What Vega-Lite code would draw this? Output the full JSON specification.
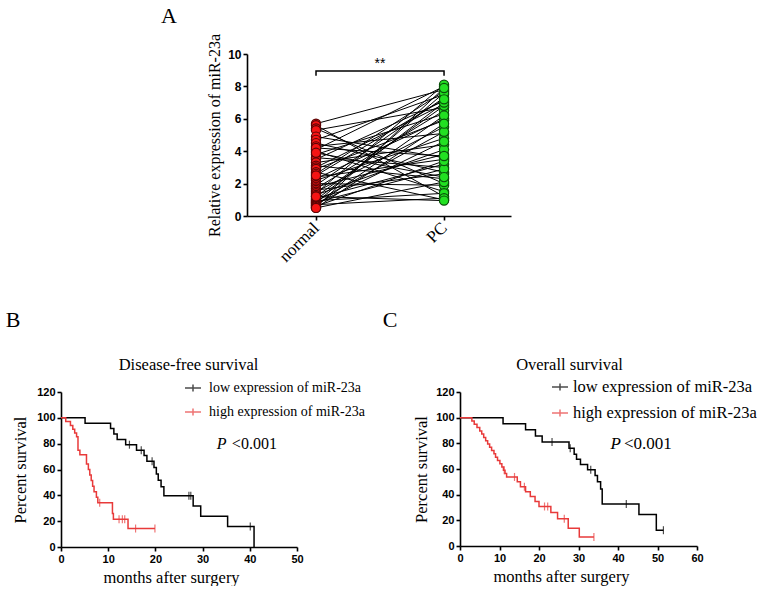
{
 "$schema": "https://vega.github.io/schema/vega-lite/v6.json",
 "padding": {"left": 5, "top": 5, "right": 0, "bottom": 0},
 "background": "white",
 "config": {
  "view": {"stroke": null},
  "font": "Liberation Sans",
  "axis": {"domainColor": "black", "domainWidth": 1.6, "tickColor": "black", "tickWidth": 1.6, "tickSize": 4, "labelColor": "black", "labelFont": "Liberation Sans", "labelFontWeight": "bold", "labelFontSize": 11, "labelPadding": 2, "titleColor": "black", "titleFont": "Liberation Serif", "titleFontWeight": "normal", "titleFontSize": 16.5, "grid": false, "labelFlush": false, "labelOverlap": false},
  "title": {"color": "black"},
  "legend": {"labelColor": "black"}
 },
 "datasets": {
  "pairs": [
   {"patient":1,"tissue":"normal","g":1,"value":5.7},{"patient":1,"tissue":"PC","g":2,"value":7.8},
   {"patient":2,"tissue":"normal","g":1,"value":5.6},{"patient":2,"tissue":"PC","g":2,"value":1.2},
   {"patient":3,"tissue":"normal","g":1,"value":5.4},{"patient":3,"tissue":"PC","g":2,"value":2.0},
   {"patient":4,"tissue":"normal","g":1,"value":5.3},{"patient":4,"tissue":"PC","g":2,"value":6.7},
   {"patient":5,"tissue":"normal","g":1,"value":4.9},{"patient":5,"tissue":"PC","g":2,"value":3.6},
   {"patient":6,"tissue":"normal","g":1,"value":4.7},{"patient":6,"tissue":"PC","g":2,"value":7.5},
   {"patient":7,"tissue":"normal","g":1,"value":4.5},{"patient":7,"tissue":"PC","g":2,"value":2.7},
   {"patient":8,"tissue":"normal","g":1,"value":4.3},{"patient":8,"tissue":"PC","g":2,"value":5.1},
   {"patient":9,"tissue":"normal","g":1,"value":4.1},{"patient":9,"tissue":"PC","g":2,"value":8.0},
   {"patient":10,"tissue":"normal","g":1,"value":4.0},{"patient":10,"tissue":"PC","g":2,"value":1.5},
   {"patient":11,"tissue":"normal","g":1,"value":3.8},{"patient":11,"tissue":"PC","g":2,"value":6.3},
   {"patient":12,"tissue":"normal","g":1,"value":3.6},{"patient":12,"tissue":"PC","g":2,"value":3.0},
   {"patient":13,"tissue":"normal","g":1,"value":3.5},{"patient":13,"tissue":"PC","g":2,"value":7.1},
   {"patient":14,"tissue":"normal","g":1,"value":3.3},{"patient":14,"tissue":"PC","g":2,"value":4.4},
   {"patient":15,"tissue":"normal","g":1,"value":3.1},{"patient":15,"tissue":"PC","g":2,"value":2.3},
   {"patient":16,"tissue":"normal","g":1,"value":3.0},{"patient":16,"tissue":"PC","g":2,"value":6.9},
   {"patient":17,"tissue":"normal","g":1,"value":2.9},{"patient":17,"tissue":"PC","g":2,"value":5.9},
   {"patient":18,"tissue":"normal","g":1,"value":2.7},{"patient":18,"tissue":"PC","g":2,"value":1.0},
   {"patient":19,"tissue":"normal","g":1,"value":2.6},{"patient":19,"tissue":"PC","g":2,"value":7.7},
   {"patient":20,"tissue":"normal","g":1,"value":2.4},{"patient":20,"tissue":"PC","g":2,"value":3.5},
   {"patient":21,"tissue":"normal","g":1,"value":2.3},{"patient":21,"tissue":"PC","g":2,"value":6.0},
   {"patient":22,"tissue":"normal","g":1,"value":2.2},{"patient":22,"tissue":"PC","g":2,"value":4.8},
   {"patient":23,"tissue":"normal","g":1,"value":2.0},{"patient":23,"tissue":"PC","g":2,"value":1.9},
   {"patient":24,"tissue":"normal","g":1,"value":1.9},{"patient":24,"tissue":"PC","g":2,"value":7.3},
   {"patient":25,"tissue":"normal","g":1,"value":1.8},{"patient":25,"tissue":"PC","g":2,"value":3.8},
   {"patient":26,"tissue":"normal","g":1,"value":1.7},{"patient":26,"tissue":"PC","g":2,"value":6.5},
   {"patient":27,"tissue":"normal","g":1,"value":1.6},{"patient":27,"tissue":"PC","g":2,"value":2.6},
   {"patient":28,"tissue":"normal","g":1,"value":1.5},{"patient":28,"tissue":"PC","g":2,"value":5.5},
   {"patient":29,"tissue":"normal","g":1,"value":1.4},{"patient":29,"tissue":"PC","g":2,"value":8.1},
   {"patient":30,"tissue":"normal","g":1,"value":1.3},{"patient":30,"tissue":"PC","g":2,"value":4.1},
   {"patient":31,"tissue":"normal","g":1,"value":1.2},{"patient":31,"tissue":"PC","g":2,"value":6.8},
   {"patient":32,"tissue":"normal","g":1,"value":1.1},{"patient":32,"tissue":"PC","g":2,"value":3.2},
   {"patient":33,"tissue":"normal","g":1,"value":1.0},{"patient":33,"tissue":"PC","g":2,"value":7.0},
   {"patient":34,"tissue":"normal","g":1,"value":0.95},{"patient":34,"tissue":"PC","g":2,"value":1.4},
   {"patient":35,"tissue":"normal","g":1,"value":0.9},{"patient":35,"tissue":"PC","g":2,"value":5.2},
   {"patient":36,"tissue":"normal","g":1,"value":0.85},{"patient":36,"tissue":"PC","g":2,"value":2.9},
   {"patient":37,"tissue":"normal","g":1,"value":0.8},{"patient":37,"tissue":"PC","g":2,"value":7.6},
   {"patient":38,"tissue":"normal","g":1,"value":0.75},{"patient":38,"tissue":"PC","g":2,"value":4.6},
   {"patient":39,"tissue":"normal","g":1,"value":0.7},{"patient":39,"tissue":"PC","g":2,"value":1.1},
   {"patient":40,"tissue":"normal","g":1,"value":0.65},{"patient":40,"tissue":"PC","g":2,"value":6.2},
   {"patient":41,"tissue":"normal","g":1,"value":0.6},{"patient":41,"tissue":"PC","g":2,"value":3.4},
   {"patient":42,"tissue":"normal","g":1,"value":0.55},{"patient":42,"tissue":"PC","g":2,"value":7.9},
   {"patient":43,"tissue":"normal","g":1,"value":0.5},{"patient":43,"tissue":"PC","g":2,"value":2.1},
   {"patient":44,"tissue":"normal","g":1,"value":0.5},{"patient":44,"tissue":"PC","g":2,"value":5.7},
   {"patient":45,"tissue":"normal","g":1,"value":4.2},{"patient":45,"tissue":"PC","g":2,"value":3.7},
   {"patient":46,"tissue":"normal","g":1,"value":2.5},{"patient":46,"tissue":"PC","g":2,"value":7.2},
   {"patient":47,"tissue":"normal","g":1,"value":3.9},{"patient":47,"tissue":"PC","g":2,"value":2.4},
   {"patient":48,"tissue":"normal","g":1,"value":1.2},{"patient":48,"tissue":"PC","g":2,"value":0.95}
  ],
  "dfs": [
   {"group":"low expression of miR-23a","t":0,"s":100},
   {"group":"low expression of miR-23a","t":5.1,"s":95.8},
   {"group":"low expression of miR-23a","t":10.5,"s":91.7},
   {"group":"low expression of miR-23a","t":11.2,"s":87.5},
   {"group":"low expression of miR-23a","t":11.9,"s":83.3},
   {"group":"low expression of miR-23a","t":13.7,"s":79.2},
   {"group":"low expression of miR-23a","t":16.0,"s":75},
   {"group":"low expression of miR-23a","t":17.6,"s":70.8},
   {"group":"low expression of miR-23a","t":18.2,"s":66.4},
   {"group":"low expression of miR-23a","t":19.7,"s":61.6},
   {"group":"low expression of miR-23a","t":20.2,"s":56.6},
   {"group":"low expression of miR-23a","t":20.6,"s":51.7},
   {"group":"low expression of miR-23a","t":21.2,"s":46.7},
   {"group":"low expression of miR-23a","t":21.8,"s":39.6},
   {"group":"low expression of miR-23a","t":28.0,"s":31.7},
   {"group":"low expression of miR-23a","t":29.6,"s":23.8},
   {"group":"low expression of miR-23a","t":35.3,"s":15.8},
   {"group":"low expression of miR-23a","t":40.9,"s":0},
   {"group":"high expression of miR-23a","t":0,"s":100},
   {"group":"high expression of miR-23a","t":1.0,"s":97.1},
   {"group":"high expression of miR-23a","t":2.0,"s":94.1},
   {"group":"high expression of miR-23a","t":2.5,"s":91.2},
   {"group":"high expression of miR-23a","t":2.9,"s":88.2},
   {"group":"high expression of miR-23a","t":3.3,"s":85.3},
   {"group":"high expression of miR-23a","t":3.6,"s":75},
   {"group":"high expression of miR-23a","t":4.0,"s":71.4},
   {"group":"high expression of miR-23a","t":5.4,"s":64.3},
   {"group":"high expression of miR-23a","t":5.8,"s":60},
   {"group":"high expression of miR-23a","t":6.1,"s":55.7},
   {"group":"high expression of miR-23a","t":6.4,"s":51.4},
   {"group":"high expression of miR-23a","t":6.7,"s":47.1},
   {"group":"high expression of miR-23a","t":7.0,"s":42.8},
   {"group":"high expression of miR-23a","t":7.5,"s":38.5},
   {"group":"high expression of miR-23a","t":7.8,"s":34.2},
   {"group":"high expression of miR-23a","t":10.9,"s":26},
   {"group":"high expression of miR-23a","t":11.1,"s":21.4},
   {"group":"high expression of miR-23a","t":14.2,"s":14.3},
   {"group":"high expression of miR-23a","t":19.9,"s":14.3}
  ],
  "dfs_cens": [
   {"group":"low expression of miR-23a","t":14.5,"s":79.2},
   {"group":"low expression of miR-23a","t":17.0,"s":75},
   {"group":"low expression of miR-23a","t":19.3,"s":66.4},
   {"group":"low expression of miR-23a","t":27.1,"s":39.6},
   {"group":"low expression of miR-23a","t":27.5,"s":39.6},
   {"group":"low expression of miR-23a","t":40.1,"s":15.8},
   {"group":"high expression of miR-23a","t":8.2,"s":34.2},
   {"group":"high expression of miR-23a","t":12.3,"s":21.4},
   {"group":"high expression of miR-23a","t":13.0,"s":21.4},
   {"group":"high expression of miR-23a","t":13.5,"s":21.4},
   {"group":"high expression of miR-23a","t":15.8,"s":14.3},
   {"group":"high expression of miR-23a","t":19.9,"s":14.3}
  ],
  "os": [
   {"group":"low expression of miR-23a","t":0,"s":100},
   {"group":"low expression of miR-23a","t":10.9,"s":95.2},
   {"group":"low expression of miR-23a","t":16.6,"s":90.5},
   {"group":"low expression of miR-23a","t":19.1,"s":85.7},
   {"group":"low expression of miR-23a","t":20.8,"s":81},
   {"group":"low expression of miR-23a","t":27.6,"s":76.2},
   {"group":"low expression of miR-23a","t":28.9,"s":71.4},
   {"group":"low expression of miR-23a","t":29.5,"s":67.6},
   {"group":"low expression of miR-23a","t":30.5,"s":63.5},
   {"group":"low expression of miR-23a","t":32.3,"s":59.5},
   {"group":"low expression of miR-23a","t":34.2,"s":55},
   {"group":"low expression of miR-23a","t":34.8,"s":50},
   {"group":"low expression of miR-23a","t":35.6,"s":44.5},
   {"group":"low expression of miR-23a","t":36.0,"s":32.8},
   {"group":"low expression of miR-23a","t":45.3,"s":24.6},
   {"group":"low expression of miR-23a","t":49.7,"s":12.3},
   {"group":"low expression of miR-23a","t":51.5,"s":12.3},
   {"group":"high expression of miR-23a","t":0,"s":100},
   {"group":"high expression of miR-23a","t":3.0,"s":97.4},
   {"group":"high expression of miR-23a","t":3.6,"s":94.9},
   {"group":"high expression of miR-23a","t":4.3,"s":92.3},
   {"group":"high expression of miR-23a","t":5.0,"s":89.7},
   {"group":"high expression of miR-23a","t":5.5,"s":87.2},
   {"group":"high expression of miR-23a","t":6.0,"s":84.6},
   {"group":"high expression of miR-23a","t":6.5,"s":82.1},
   {"group":"high expression of miR-23a","t":7.0,"s":79.5},
   {"group":"high expression of miR-23a","t":7.5,"s":76.9},
   {"group":"high expression of miR-23a","t":8.0,"s":74.4},
   {"group":"high expression of miR-23a","t":8.6,"s":71.8},
   {"group":"high expression of miR-23a","t":9.0,"s":69.2},
   {"group":"high expression of miR-23a","t":9.5,"s":66.7},
   {"group":"high expression of miR-23a","t":10.1,"s":64.1},
   {"group":"high expression of miR-23a","t":10.6,"s":61.5},
   {"group":"high expression of miR-23a","t":11.0,"s":59},
   {"group":"high expression of miR-23a","t":11.4,"s":56.4},
   {"group":"high expression of miR-23a","t":11.8,"s":53.8},
   {"group":"high expression of miR-23a","t":14.5,"s":50},
   {"group":"high expression of miR-23a","t":15.3,"s":46.2},
   {"group":"high expression of miR-23a","t":16.6,"s":42.3},
   {"group":"high expression of miR-23a","t":17.8,"s":38.5},
   {"group":"high expression of miR-23a","t":19.0,"s":34.6},
   {"group":"high expression of miR-23a","t":20.0,"s":30.8},
   {"group":"high expression of miR-23a","t":23.0,"s":26.1},
   {"group":"high expression of miR-23a","t":24.7,"s":21.2},
   {"group":"high expression of miR-23a","t":27.4,"s":13.9},
   {"group":"high expression of miR-23a","t":30.2,"s":7.0},
   {"group":"high expression of miR-23a","t":33.9,"s":7.0}
  ],
  "os_cens": [
   {"group":"low expression of miR-23a","t":23.3,"s":81},
   {"group":"low expression of miR-23a","t":27.9,"s":76.2},
   {"group":"low expression of miR-23a","t":33.1,"s":59.5},
   {"group":"low expression of miR-23a","t":42.1,"s":32.8},
   {"group":"low expression of miR-23a","t":51.5,"s":12.3},
   {"group":"high expression of miR-23a","t":11.2,"s":59},
   {"group":"high expression of miR-23a","t":13.8,"s":53.8},
   {"group":"high expression of miR-23a","t":16.3,"s":46.2},
   {"group":"high expression of miR-23a","t":21.4,"s":30.8},
   {"group":"high expression of miR-23a","t":22.2,"s":30.8},
   {"group":"high expression of miR-23a","t":26.4,"s":21.2},
   {"group":"high expression of miR-23a","t":33.9,"s":7.0}
  ]
 },
 "spacing": 44,
 "vconcat": [
  {
   "hconcat": [
    {"width": 176, "height": 10, "data": {"values": [{}]}, "mark": {"type": "text", "text": ""}, "encoding": {}},
    {
     "width": 264, "height": 162,
     "title": {"text": "A", "anchor": "start", "frame": "group", "dx": -86, "offset": 5, "font": "Liberation Serif", "fontSize": 22, "fontWeight": "normal"},
     "layer": [
      {"data": {"name": "pairs"}, "mark": {"type": "line", "color": "black", "strokeWidth": 1},
       "encoding": {
        "x": {"field": "g", "type": "quantitative", "scale": {"domain": [0.461, 2.523], "nice": false, "zero": false},
              "axis": {"values": [1, 2], "tickCount": 20, "labelExpr": "datum.value == 1 ? 'normal' : 'PC'", "title": null, "labelAngle": -45, "labelAlign": "right", "labelBaseline": "middle", "labelFont": "Liberation Serif", "labelFontSize": 17, "labelFontWeight": "normal", "labelPadding": 5, "labelOverlap": false}},
        "y": {"field": "value", "type": "quantitative", "scale": {"domain": [0, 10], "nice": false},
              "axis": {"values": [0, 2, 4, 6, 8, 10], "tickCount": 20, "format": "d", "labelOverlap": false, "title": "Relative expression of miR-23a", "titleFontSize": 16, "titlePadding": 5, "labelFontSize": 12}},
        "detail": {"field": "patient", "type": "nominal"}
       }},
      {"data": {"name": "pairs"}, "mark": {"type": "circle", "size": 85, "strokeWidth": 1.2, "opacity": 1},
       "encoding": {
        "x": {"field": "g", "type": "quantitative"},
        "y": {"field": "value", "type": "quantitative"},
        "fill": {"field": "tissue", "type": "nominal", "scale": {"domain": ["normal", "PC"], "range": ["#f51414", "#22e022"]}, "legend": null},
        "stroke": {"field": "tissue", "type": "nominal", "scale": {"domain": ["normal", "PC"], "range": ["#5a0505", "#0a500a"]}, "legend": null}
       }},
      {"data": {"values": [{"bx": 1, "by": 8.65, "o": 1}, {"bx": 1, "by": 8.95, "o": 2}, {"bx": 2, "by": 8.95, "o": 3}, {"bx": 2, "by": 8.65, "o": 4}]},
       "mark": {"type": "line", "color": "black", "strokeWidth": 1.5},
       "encoding": {"x": {"field": "bx", "type": "quantitative"}, "y": {"field": "by", "type": "quantitative"}, "order": {"field": "o", "type": "quantitative"}}},
      {"data": {"values": [{"bx": 1.5, "by": 9.4, "label": "**"}]},
       "mark": {"type": "text", "fontSize": 14, "font": "Liberation Sans", "baseline": "middle", "align": "center"},
       "encoding": {"x": {"field": "bx", "type": "quantitative"}, "y": {"field": "by", "type": "quantitative"}, "text": {"field": "label"}}}
     ]
    }
   ],
   "spacing": 10,
   "bounds": "flush"
  },
  {
   "hconcat": [
    {
     "width": 236, "height": 155,
     "title": {"text": "B", "anchor": "start", "frame": "bounds", "dx": -7, "offset": 24, "font": "Liberation Serif", "fontSize": 22, "fontWeight": "normal"},
     "resolve": {"axis": {"x": "independent"}},
     "layer": [
      {"data": {"name": "dfs"}, "mark": {"type": "line", "interpolate": "step-after", "strokeWidth": 1.5},
       "encoding": {
        "x": {"field": "t", "type": "quantitative", "scale": {"domain": [0, 50], "nice": false},
              "axis": {"values": [0, 10, 20, 30, 40, 50], "tickCount": 20, "format": "d", "labelOverlap": false, "title": "months after surgery", "titlePadding": 5, "titleX": 110}},
        "y": {"field": "s", "type": "quantitative", "scale": {"domain": [0, 120], "nice": false},
              "axis": {"values": [0, 20, 40, 60, 80, 100, 120], "tickCount": 20, "format": "d", "labelOverlap": false, "title": "Percent survival", "titlePadding": 8}},
        "color": {"field": "group", "type": "nominal", "scale": {"domain": ["low expression of miR-23a", "high expression of miR-23a"], "range": ["black", "#e83a3a"]},
                  "legend": {"orient": "none", "legendX": 123, "legendY": -13, "title": null, "symbolType": "M-1,0H1M0,-0.45V0.45", "symbolSize": 256, "symbolStrokeWidth": 1.5, "labelFont": "Liberation Serif", "labelFontSize": 14, "labelOffset": 7, "rowPadding": 8, "labelLimit": 400}}
       }},
      {"data": {"name": "dfs_cens"}, "mark": {"type": "tick", "orient": "vertical", "size": 8, "thickness": 1.2},
       "encoding": {
        "x": {"field": "t", "type": "quantitative", "axis": {"orient": "top", "title": "Disease-free survival", "domain": false, "ticks": false, "labels": false, "titlePadding": 20, "titleX": 127, "titleFontSize": 16.5}},
        "y": {"field": "s", "type": "quantitative"},
        "color": {"field": "group", "type": "nominal"}
       }},
      {"data": {"values": [{"x": 33, "y": 79.7, "label": "P"}]},
       "mark": {"type": "text", "align": "left", "baseline": "middle", "font": "Liberation Serif", "fontSize": 16, "fontStyle": "italic"},
       "encoding": {"x": {"field": "x", "type": "quantitative", "axis": null}, "y": {"field": "y", "type": "quantitative"}, "text": {"field": "label"}}},
      {"data": {"values": [{"x": 36.2, "y": 79.7, "label": "<0.001"}]},
       "mark": {"type": "text", "align": "left", "baseline": "middle", "font": "Liberation Serif", "fontSize": 16},
       "encoding": {"x": {"field": "x", "type": "quantitative", "axis": null}, "y": {"field": "y", "type": "quantitative"}, "text": {"field": "label"}}}
     ]
    },
    {
     "width": 237, "height": 154,
     "title": {"text": "C", "anchor": "start", "frame": "bounds", "dx": -31, "offset": 24, "font": "Liberation Serif", "fontSize": 22, "fontWeight": "normal"},
     "resolve": {"axis": {"x": "independent"}},
     "layer": [
      {"data": {"name": "os"}, "mark": {"type": "line", "interpolate": "step-after", "strokeWidth": 1.5},
       "encoding": {
        "x": {"field": "t", "type": "quantitative", "scale": {"domain": [0, 60], "nice": false},
              "axis": {"values": [0, 10, 20, 30, 40, 50, 60], "tickCount": 20, "format": "d", "labelOverlap": false, "title": "months after surgery", "titlePadding": 5, "titleX": 101}},
        "y": {"field": "s", "type": "quantitative", "scale": {"domain": [0, 120], "nice": false},
              "axis": {"values": [0, 20, 40, 60, 80, 100, 120], "tickCount": 20, "format": "d", "labelOverlap": false, "title": "Percent survival", "titlePadding": 6}},
        "color": {"field": "group", "type": "nominal", "scale": {"domain": ["low expression of miR-23a", "high expression of miR-23a"], "range": ["black", "#e83a3a"]},
                  "legend": {"orient": "none", "legendX": 91, "legendY": -14, "title": null, "symbolType": "M-1,0H1M0,-0.45V0.45", "symbolSize": 256, "symbolStrokeWidth": 1.5, "labelFont": "Liberation Serif", "labelFontSize": 16.5, "labelOffset": 4, "rowPadding": 8, "labelLimit": 400}}
       }},
      {"data": {"name": "os_cens"}, "mark": {"type": "tick", "orient": "vertical", "size": 8, "thickness": 1.2},
       "encoding": {
        "x": {"field": "t", "type": "quantitative", "axis": {"orient": "top", "title": "Overall survival", "domain": false, "ticks": false, "labels": false, "titlePadding": 20, "titleX": 109, "titleFontSize": 16.5}},
        "y": {"field": "s", "type": "quantitative"},
        "color": {"field": "group", "type": "nominal"}
       }},
      {"data": {"values": [{"x": 38.1, "y": 79.5, "label": "P"}]},
       "mark": {"type": "text", "align": "left", "baseline": "middle", "font": "Liberation Serif", "fontSize": 17, "fontStyle": "italic"},
       "encoding": {"x": {"field": "x", "type": "quantitative", "axis": null}, "y": {"field": "y", "type": "quantitative"}, "text": {"field": "label"}}},
      {"data": {"values": [{"x": 41.5, "y": 79.5, "label": "<0.001"}]},
       "mark": {"type": "text", "align": "left", "baseline": "middle", "font": "Liberation Serif", "fontSize": 17},
       "encoding": {"x": {"field": "x", "type": "quantitative", "axis": null}, "y": {"field": "y", "type": "quantitative"}, "text": {"field": "label"}}}
     ]
    }
   ],
   "spacing": 163,
   "bounds": "flush",
   "resolve": {"scale": {"color": "independent"}, "legend": {"color": "independent"}}
  }
 ]
}
